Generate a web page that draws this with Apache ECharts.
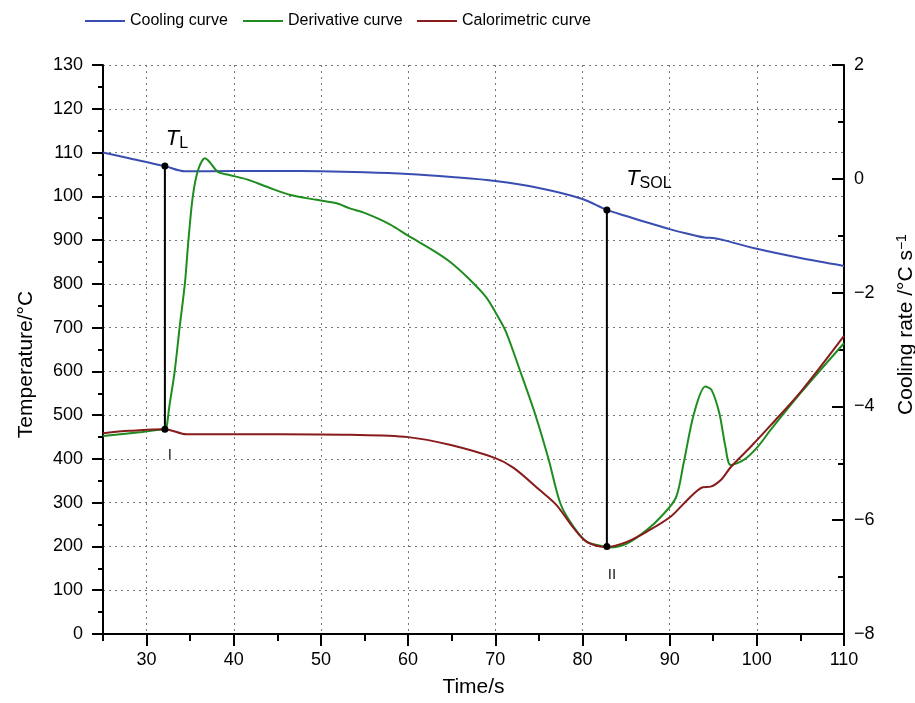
<!DOCTYPE html>
<html>
<head>
<meta charset="utf-8">
<script src="https://cdn.jsdelivr.net/npm/echarts@6/dist/echarts.min.js"></script>
<style>
  html, body { margin: 0; padding: 0; background: #fff; }
  #chart { width: 915px; height: 703px; }
</style>
</head>
<body>
<div id="chart"></div>
<script>
//冷却曲线 (左轴, 温度)
var coolingTime = [25, 28, 32.1, 34.4, 40, 45, 50, 55, 60, 65, 70, 75, 80, 82.8, 85, 90, 93, 94, 95, 96, 100, 105, 110];
var coolingTemp = [1100, 1087, 1069, 1057, 1058, 1058, 1057, 1055, 1051, 1044, 1035, 1019, 994, 969, 955, 925, 910, 906, 905, 901, 880, 859, 841];

//微分曲线 (右轴, 冷却速率)
var derivTime = [25, 29.5, 31.5, 32.1, 32.3, 32.6, 33.2, 33.8, 34.4, 34.8, 35.3, 35.9, 36.7, 37.2, 38.2, 39.4, 41.5, 43.8, 46.4, 49.5, 51.8, 53.3, 55, 57.9, 60, 63, 64.9, 67, 68.9, 70, 71.2, 72.9, 74.6, 76.1, 77.5, 79, 80.5, 82.1, 83.1, 85.1, 87.4, 89, 90.7, 91.6, 92.8, 94.1, 94.8, 95.7, 96.4, 97, 98.5, 100.1, 101.6, 105.1, 110];
var derivRate = [-4.52, -4.45, -4.41, -4.40, -4.36, -4.01, -3.41, -2.60, -1.83, -1.08, -0.31, 0.15, 0.36, 0.30, 0.12, 0.07, -0.01, -0.14, -0.28, -0.37, -0.43, -0.52, -0.60, -0.80, -1.00, -1.27, -1.47, -1.76, -2.07, -2.34, -2.68, -3.40, -4.15, -4.92, -5.72, -6.12, -6.38, -6.45, -6.48, -6.41, -6.17, -5.94, -5.61, -5.00, -4.12, -3.65, -3.71, -4.12, -4.71, -5.03, -4.94, -4.71, -4.41, -3.75, -2.89];

//量热曲线 (右轴)
var caloTime = [25, 28, 32.1, 34.6, 38.4, 45.3, 53.3, 60, 64.9, 70, 72.1, 75.1, 77, 79, 80.5, 82.8, 85.1, 87.4, 90.1, 92, 93.8, 94.7, 95.9, 97, 99.3, 101.6, 105.1, 110];
var caloRate = [-4.47, -4.43, -4.40, -4.49, -4.49, -4.49, -4.50, -4.54, -4.68, -4.91, -5.08, -5.47, -5.73, -6.14, -6.38, -6.47, -6.38, -6.20, -5.94, -5.65, -5.42, -5.41, -5.29, -5.07, -4.71, -4.33, -3.73, -2.76];

//特征点: 液相线 / 固相线 (左轴温度)
var liquidusTime = 32.1;
var liquidusTemp = [1069, 468];
var solidusTime = 82.8;
var solidusTemp = [969, 200];

//刻度标签
var leftTickLabels = ['0', '100', '200', '300', '400', '500', '600', '700', '800', '900', '100', '110', '120', '130'];
var rightTickLabels = {'-8': '\u22128', '-6': '\u22126', '-4': '\u22124', '-2': '\u22122', '0': '0', '2': '2'};
var timeTicks = [30, 40, 50, 60, 70, 80, 90, 100, 110];

function pairs(xs, ys) {
	var res = [];
	for (var i = 0; i < xs.length; i++) {
		res.push([xs[i], ys[i]]);
	}
	return res;
}

var FONT = '"Liberation Sans", Arial, Helvetica, sans-serif';
var chart = echarts.init(document.getElementById('chart'), null, {renderer: 'canvas'});

var legendStyle = {
	top: 8,
	itemWidth: 40,
	itemHeight: 14,
	icon: 'path://M0,6 L40,6 L40,8 L0,8 Z',
	textStyle: {fontFamily: FONT, fontSize: 16, color: '#000'}
};

var option = {
	animation: false,
	backgroundColor: '#fff',
	legend: [
		Object.assign({left: 80, data: ['Cooling curve']}, legendStyle),
		Object.assign({left: 238, data: ['Derivative curve']}, legendStyle),
		Object.assign({left: 412, data: ['Calorimetric curve']}, legendStyle)
	],
	grid: {left: 103, right: 71, top: 65, bottom: 69, outerBoundsMode: 'none', containLabel: false},
	xAxis: [
		{
			type: 'value',
			min: 25,
			max: 110,
			interval: 5,
			name: 'Time/s',
			nameLocation: 'middle',
			nameGap: 43,
			nameTextStyle: {fontFamily: FONT, fontSize: 21, color: '#000'},
			axisLine: {onZero: false, lineStyle: {color: '#000', width: 2}},
			axisTick: {show: true, length: 7, lineStyle: {color: '#000', width: 2}},
			axisLabel: {
				margin: 17,
				fontFamily: FONT, fontSize: 18, color: '#000',
				formatter: function(v) { return v % 10 === 0 ? String(v) : ''; }
			},
			splitLine: {show: true, lineStyle: {type: [2, 4], color: ['rgba(0,0,0,0)', '#777'], width: 1}}
		},
		{
			type: 'value',
			min: 25,
			max: 110,
			interval: 5,
			position: 'bottom',
			axisLine: {show: false, onZero: false},
			axisTick: {show: true, length: 12, customValues: timeTicks, lineStyle: {color: '#000', width: 2}},
			axisLabel: {show: false},
			splitLine: {show: false}
		}
	],
	yAxis: [
		{
			type: 'value',
			min: 0,
			max: 1300,
			interval: 100,
			name: 'Temperature/\u00b0C',
			nameLocation: 'middle',
			nameGap: 66,
			nameTextStyle: {fontFamily: FONT, fontSize: 21, color: '#000', padding: [0, 30, 0, 0]},
			axisLine: {show: true, onZero: false, lineStyle: {color: '#000', width: 2}},
			axisTick: {show: true, length: 11, lineStyle: {color: '#000', width: 2}},
			minorTick: {show: true, splitNumber: 2, length: 5, lineStyle: {color: '#000', width: 2}},
			axisLabel: {
				margin: 20,
				fontFamily: FONT, fontSize: 18, color: '#000',
				formatter: function(v) { return leftTickLabels[Math.round(v / 100)]; }
			},
			splitLine: {show: true, lineStyle: {type: [2, 4], color: '#777', width: 1}}
		},
		{
			type: 'value',
			min: -8,
			max: 2,
			interval: 2,
			position: 'right',
			name: 'Cooling rate /\u00b0C s{sup|\u22121}',
			nameLocation: 'middle',
			nameGap: 51,
			nameTextStyle: {
				fontFamily: FONT, fontSize: 21, color: '#000', padding: [0, 0, 0, 50],
				rich: {sup: {fontFamily: FONT, fontSize: 14, color: '#000', padding: [0, 0, 9, 0]}}
			},
			axisLine: {show: true, onZero: false, lineStyle: {color: '#000', width: 2}},
			axisTick: {show: true, inside: true, length: 12, lineStyle: {color: '#000', width: 2}},
			minorTick: {show: true, splitNumber: 2, length: 6, lineStyle: {color: '#000', width: 2}},
			axisLabel: {
				margin: 10,
				fontFamily: FONT, fontSize: 18, color: '#000',
				formatter: function(v) { return rightTickLabels[String(v)]; }
			},
			splitLine: {show: false}
		}
	],
	series: [
		{
			name: 'Cooling curve',
			type: 'line',
			yAxisIndex: 0,
			data: pairs(coolingTime, coolingTemp),
			smooth: 0.3,
			showSymbol: false,
			symbol: 'none',
			color: '#3a4db0',
			lineStyle: {width: 2, color: '#3a4db0'},
			z: 3
		},
		{
			name: 'Derivative curve',
			type: 'line',
			yAxisIndex: 1,
			data: pairs(derivTime, derivRate),
			smooth: 0.3,
			showSymbol: false,
			symbol: 'none',
			color: '#1f8c1f',
			lineStyle: {width: 2, color: '#1f8c1f'},
			z: 3
		},
		{
			name: 'Calorimetric curve',
			type: 'line',
			yAxisIndex: 1,
			data: pairs(caloTime, caloRate),
			smooth: 0.3,
			showSymbol: false,
			symbol: 'none',
			color: '#881c1c',
			lineStyle: {width: 2, color: '#881c1c'},
			z: 4
		},
		{
			name: 'liquidus',
			type: 'line',
			yAxisIndex: 0,
			symbol: 'circle',
			symbolSize: 7,
			itemStyle: {color: '#000'},
			lineStyle: {width: 2, color: '#000'},
			z: 5,
			data: [
				{
					value: [liquidusTime, liquidusTemp[0]],
					label: {
						show: true, position: 'top', offset: [12, -6],
						formatter: '{t|T}{s|L}',
						rich: {
							t: {fontFamily: FONT, fontStyle: 'italic', fontSize: 22, color: '#000'},
							s: {fontFamily: FONT, fontSize: 16, color: '#000', padding: [10, 0, 0, 0]}
						}
					}
				},
				{
					value: [liquidusTime, liquidusTemp[1]],
					label: {show: true, position: 'bottom', offset: [5, 10], formatter: 'I', fontFamily: FONT, fontSize: 15, color: '#222'}
				}
			]
		},
		{
			name: 'solidus',
			type: 'line',
			yAxisIndex: 0,
			symbol: 'circle',
			symbolSize: 7,
			itemStyle: {color: '#000'},
			lineStyle: {width: 2, color: '#000'},
			z: 5,
			data: [
				{
					value: [solidusTime, solidusTemp[0]],
					label: {
						show: true, position: 'top', offset: [42, -10],
						formatter: '{t|T}{s|SOL}',
						rich: {
							t: {fontFamily: FONT, fontStyle: 'italic', fontSize: 22, color: '#000'},
							s: {fontFamily: FONT, fontSize: 16, color: '#000', padding: [10, 0, 0, 0]}
						}
					}
				},
				{
					value: [solidusTime, solidusTemp[1]],
					label: {show: true, position: 'bottom', offset: [5, 12], formatter: 'II', fontFamily: FONT, fontSize: 15, color: '#222'}
				}
			]
		}
	]
};

chart.setOption(option);
</script>
</body>
</html>
